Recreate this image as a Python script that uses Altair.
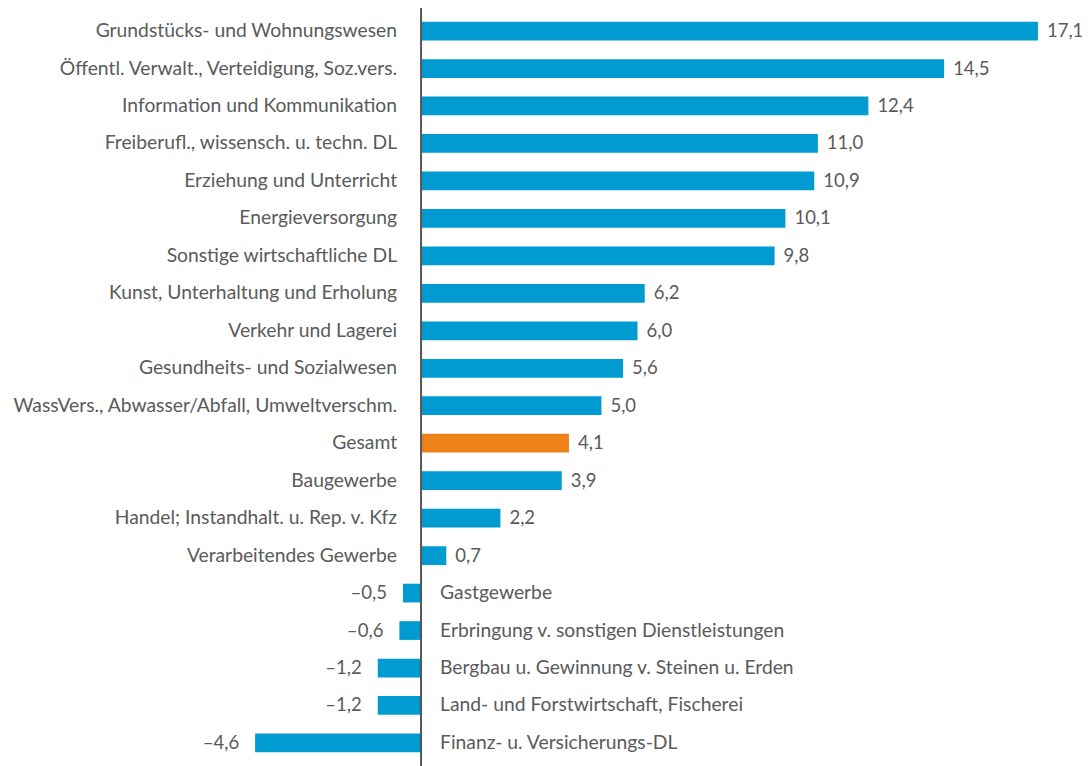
import altair as alt
import pandas as pd

categories = [
    "Grundstücks- und Wohnungswesen",
    "Öffentl. Verwalt., Verteidigung, Soz.vers.",
    "Information und Kommunikation",
    "Freiberufl., wissensch. u. techn. DL",
    "Erziehung und Unterricht",
    "Energieversorgung",
    "Sonstige wirtschaftliche DL",
    "Kunst, Unterhaltung und Erholung",
    "Verkehr und Lagerei",
    "Gesundheits- und Sozialwesen",
    "WassVers., Abwasser/Abfall, Umweltverschm.",
    "Gesamt",
    "Baugewerbe",
    "Handel; Instandhalt. u. Rep. v. Kfz",
    "Verarbeitendes Gewerbe",
    "Gastgewerbe",
    "Erbringung v. sonstigen Dienstleistungen",
    "Bergbau u. Gewinnung v. Steinen u. Erden",
    "Land- und Forstwirtschaft, Fischerei",
    "Finanz- u. Versicherungs-DL",
]
values = [17.1, 14.5, 12.4, 11.0, 10.9, 10.1, 9.8, 6.2, 6.0, 5.6, 5.0, 4.1,
          3.9, 2.2, 0.7, -0.5, -0.6, -1.2, -1.2, -4.6]
highlight = ["Gesamt"]

df = pd.DataFrame({
    "cat": categories,
    "val": values,
    "label": [f"{v:.1f}".replace(".", ",").replace("-", "\u2013") for v in values],
    "kind": ["Gesamt" if c in highlight else "Branche" for c in categories],
    "zero": [0] * len(values),
})

FONT = "Lato"
FS = 19.3
FS_VAL = 18.5
FW = 400
TXT = "#5a5a5a"

W, H = 1066, 758
xscale = alt.Scale(domain=[-11.45, 18.10], nice=False, zero=False)
yenc = alt.Y("cat:N", sort=categories, axis=None,
             scale=alt.Scale(paddingInner=0.5, paddingOuter=0.365))

base = alt.Chart(df)

bars = base.mark_bar().encode(
    x=alt.X("val:Q", scale=xscale, axis=None),
    x2="zero:Q",
    y=yenc,
    color=alt.Color("kind:N", scale=alt.Scale(domain=["Branche", "Gesamt"],
                                              range=["#009CD1", "#EF8119"]), legend=None),
)

pos = base.transform_filter("datum.val >= 0")
neg = base.transform_filter("datum.val < 0")

txt = dict(baseline="middle", font=FONT, fontWeight=FW, color=TXT)

cat_pos = pos.mark_text(align="right", dx=-24, fontSize=FS, **txt).encode(
    x=alt.X("zero:Q", scale=xscale), y=yenc, text="cat:N")
cat_neg = neg.mark_text(align="left", dx=19, fontSize=FS, **txt).encode(
    x=alt.X("zero:Q", scale=xscale), y=yenc, text="cat:N")
val_pos = pos.mark_text(align="left", dx=9, fontSize=FS_VAL, **txt).encode(
    x=alt.X("val:Q", scale=xscale), y=yenc, text="label:N")
val_neg = neg.mark_text(align="right", dx=-16, fontSize=FS_VAL, **txt).encode(
    x=alt.X("val:Q", scale=xscale), y=yenc, text="label:N")

axis_line = alt.Chart(pd.DataFrame({"zero": [0]})).mark_rule(
    color="#555555", strokeWidth=2).encode(
    x=alt.X("zero:Q", scale=xscale),
    y=alt.value(0), y2=alt.value(H))

chart = alt.layer(bars, axis_line, cat_pos, cat_neg, val_pos, val_neg).properties(
    width=W, height=H,
    autosize=alt.AutoSizeParams(type="none"),
    padding={"left": 0, "top": 0, "right": 8, "bottom": 0},
).configure_view(stroke=None)

chart.save("out.html", embed_options={"renderer": "svg", "actions": False})
